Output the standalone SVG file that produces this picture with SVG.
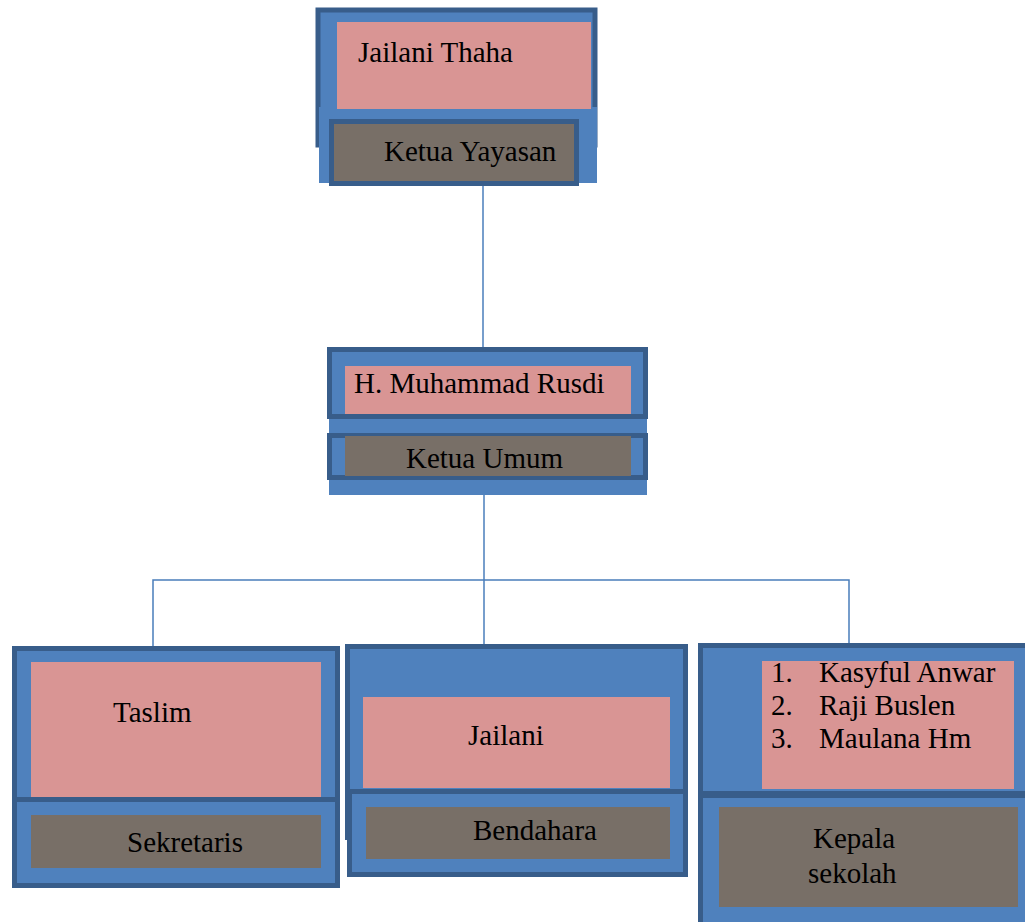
<svg xmlns="http://www.w3.org/2000/svg" width="1025" height="922" viewBox="0 0 1025 922">
<style>
.bg{fill:#4F81BD;stroke:none}
.frame{fill:#4F81BD;stroke:#385D8A;stroke-width:5}
.name{fill:#D99594;stroke:none}
.role{fill:#786F67;stroke:none}
.rolef{fill:#786F67;stroke:#385D8A;stroke-width:5}
.t{font-family:"Liberation Serif","Times New Roman",serif;font-size:29px;fill:#000}
.conn{stroke:#4A7EBB;stroke-width:1.5;fill:none}
</style>
<rect width="1025" height="922" fill="#fff"/>
<g id="connectors">
<line class="conn" x1="483" y1="186" x2="483" y2="347"/>
<line class="conn" x1="484" y1="495" x2="484" y2="686"/>
<polyline class="conn" points="153,653 153,580 849,580 849,643"/>
</g>
<g id="node-ketua-yayasan">
<rect class="frame" x="318" y="10" width="277" height="135"/>
<rect class="bg" x="319" y="107" width="278" height="76"/>
<rect class="name" x="337" y="22" width="254" height="87"/>
<rect class="rolef" x="331.5" y="121.5" width="245" height="62"/>
<text class="t" x="358" y="62">Jailani Thaha</text>
<text class="t" x="384" y="161">Ketua Yayasan</text>
</g>
<g id="node-ketua-umum">
<rect class="bg" x="329" y="410" width="318" height="85"/>
<rect class="frame" x="329.5" y="349.5" width="316" height="67"/>
<rect class="frame" x="329.5" y="435.5" width="316" height="42"/>
<rect class="name" x="345" y="366" width="286" height="48"/>
<rect class="role" x="345" y="436" width="286" height="40"/>
<text class="t" x="354" y="393">H. Muhammad Rusdi</text>
<text class="t" x="406" y="468">Ketua Umum</text>
</g>
<g id="node-sekretaris">
<rect class="frame" x="14.5" y="648.5" width="323" height="151"/>
<rect class="frame" x="14.5" y="799.5" width="323" height="86"/>
<rect class="name" x="31" y="662" width="290" height="135"/>
<rect class="role" x="31" y="815" width="290" height="53"/>
<text class="t" x="113" y="722">Taslim</text>
<text class="t" x="127" y="852">Sekretaris</text>
</g>
<g id="node-bendahara">
<rect class="frame" x="347.5" y="646.5" width="338" height="191"/>
<rect class="frame" x="349.5" y="791.5" width="336" height="83"/>
<rect class="name" x="363" y="697" width="307" height="91"/>
<rect class="role" x="366" y="807" width="304" height="52"/>
<text class="t" x="468" y="745">Jailani</text>
<text class="t" x="473" y="840">Bendahara</text>
</g>
<g id="node-kepala-sekolah">
<rect class="frame" x="700.5" y="645.5" width="340" height="148"/>
<rect class="frame" x="700.5" y="795.5" width="340" height="140"/>
<rect class="name" x="762" y="661" width="252" height="128"/>
<rect class="role" x="719" y="807" width="299" height="100"/>
<text class="t" x="771" y="682">1.</text>
<text class="t" x="819" y="682">Kasyful Anwar</text>
<text class="t" x="771" y="715">2.</text>
<text class="t" x="819" y="715">Raji Buslen</text>
<text class="t" x="771" y="748">3.</text>
<text class="t" x="819" y="748">Maulana Hm</text>
<text class="t" x="813" y="848">Kepala</text>
<text class="t" x="808" y="883">sekolah</text>
</g>
</svg>
